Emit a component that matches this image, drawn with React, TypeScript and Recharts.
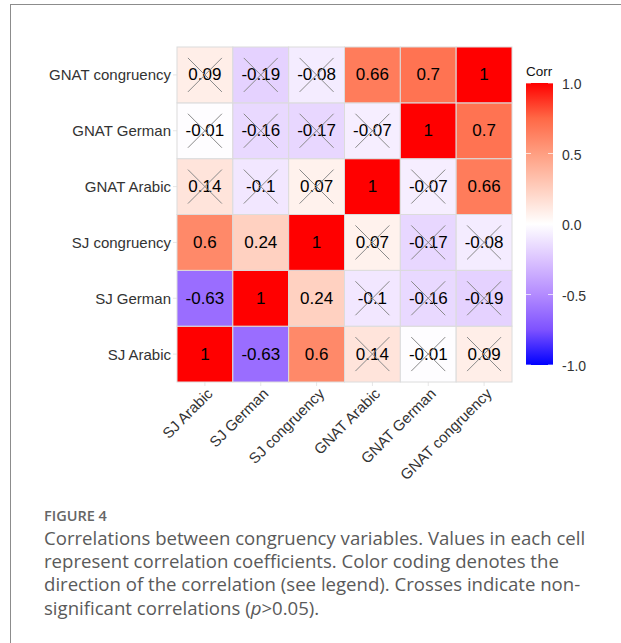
import React from 'react';
import { ScatterChart, Scatter, XAxis, YAxis, Customized } from 'recharts';

const variables = ['SJ Arabic', 'SJ German', 'SJ congruency', 'GNAT Arabic', 'GNAT German', 'GNAT congruency'];

// correlation values in upper-triangle order: [row var, col var, r, significant]
const pairA = ['SJ Arabic', 'SJ Arabic', 'SJ Arabic', 'SJ Arabic', 'SJ Arabic', 'SJ German', 'SJ German', 'SJ German', 'SJ German', 'SJ congruency', 'SJ congruency', 'SJ congruency', 'GNAT Arabic', 'GNAT Arabic', 'GNAT German'];
const pairB = ['SJ German', 'SJ congruency', 'GNAT Arabic', 'GNAT German', 'GNAT congruency', 'SJ congruency', 'GNAT Arabic', 'GNAT German', 'GNAT congruency', 'GNAT Arabic', 'GNAT German', 'GNAT congruency', 'GNAT German', 'GNAT congruency', 'GNAT congruency'];
const pairR = [-0.63, 0.6, 0.14, -0.01, 0.09, 0.24, -0.1, -0.16, -0.19, 0.07, -0.17, -0.08, -0.07, 0.66, 0.7];
const pairSig = [true, true, false, false, false, true, false, false, false, false, false, false, false, true, true];

const legendTicks = [1.0, 0.5, 0.0, -0.5, -1.0];

const W = 621;
const PLOT_LEFT = 177;
const PLOT_RIGHT = 512;
const PLOT_TOP = 47;
const PLOT_BOTTOM = 382;
const CELL = (PLOT_RIGHT - PLOT_LEFT) / variables.length;

// Lab interpolation like ggplot's scale_fill_gradient2
function toLin(c: number) { c /= 255; return c <= 0.04045 ? c / 12.92 : Math.pow((c + 0.055) / 1.055, 2.4); }
function fromLin(c: number) { const v = c <= 0.0031308 ? 12.92 * c : 1.055 * Math.pow(c, 1 / 2.4) - 0.055; return Math.max(0, Math.min(255, Math.round(v * 255))); }
function rgb2lab(r: number, g: number, b: number) {
  const R = toLin(r), G = toLin(g), B = toLin(b);
  const X = (0.4124 * R + 0.3576 * G + 0.1805 * B) / 0.95047;
  const Y = (0.2126 * R + 0.7152 * G + 0.0722 * B);
  const Z = (0.0193 * R + 0.1192 * G + 0.9505 * B) / 1.08883;
  const f = (t: number) => t > 0.008856 ? Math.cbrt(t) : 7.787 * t + 16 / 116;
  const fx = f(X), fy = f(Y), fz = f(Z);
  return [116 * fy - 16, 500 * (fx - fy), 200 * (fy - fz)];
}
function lab2rgb(L: number, a: number, bb: number) {
  const fy = (L + 16) / 116, fx = fy + a / 500, fz = fy - bb / 200;
  const fi = (t: number) => t * t * t > 0.008856 ? t * t * t : (t - 16 / 116) / 7.787;
  const X = fi(fx) * 0.95047, Y = fi(fy), Z = fi(fz) * 1.08883;
  const R = 3.2406 * X - 1.5372 * Y - 0.4986 * Z;
  const G = -0.9689 * X + 1.8758 * Y + 0.0415 * Z;
  const B = 0.0557 * X - 0.2040 * Y + 1.0570 * Z;
  return `rgb(${fromLin(R)},${fromLin(G)},${fromLin(B)})`;
}
const LAB_W = rgb2lab(255, 255, 255);
const LAB_R = rgb2lab(255, 0, 0);
const LAB_B = rgb2lab(0, 0, 255);
function corrColor(v: number) {
  const t = Math.min(1, Math.abs(v));
  const end = v >= 0 ? LAB_R : LAB_B;
  return lab2rgb(LAB_W[0] + (end[0] - LAB_W[0]) * t, LAB_W[1] + (end[1] - LAB_W[1]) * t, LAB_W[2] + (end[2] - LAB_W[2]) * t);
}

function fmt(v: number) { return String(v); }

type Cell = { x: number; y: number; r: number; sig: boolean };
const cells: Cell[] = [];
variables.forEach((rv, yi) => {
  variables.forEach((cv, xi) => {
    let r = 1, sig = true;
    if (rv !== cv) {
      for (let k = 0; k < pairR.length; k++) {
        if ((pairA[k] === rv && pairB[k] === cv) || (pairA[k] === cv && pairB[k] === rv)) { r = pairR[k]; sig = pairSig[k]; }
      }
    }
    cells.push({ x: xi + 1, y: yi + 1, r, sig });
  });
});

const TileShape = (props: any) => {
  const { cx, cy, payload } = props;
  if (cx == null || cy == null) return null;
  const h = CELL / 2;
  const c = 17;
  return (
    <g>
      <rect x={cx - h} y={cy - h} width={CELL} height={CELL} fill={corrColor(payload.r)} stroke="#dcdcdc" strokeWidth={1} />
      <text x={cx} y={cy} textAnchor="middle" dominantBaseline="central" fontSize={17} fill="#000" fontFamily="Liberation Sans, Arial, sans-serif">{fmt(payload.r)}</text>
      {!payload.sig && (
        <g stroke="#8a8a8a" strokeWidth={1}>
          <line x1={cx - c} y1={cy - c} x2={cx + c} y2={cy + c} />
          <line x1={cx - c} y1={cy + c} x2={cx + c} y2={cy - c} />
        </g>
      )}
    </g>
  );
};

const YTick = (props: any) => {
  const { x, y, payload } = props;
  return (
    <text x={x} y={y} textAnchor="end" dominantBaseline="central" fontSize={15} fill="#333" fontFamily="Liberation Sans, Arial, sans-serif">
      {variables[payload.value - 1]}
    </text>
  );
};

const XTick = (props: any) => {
  const { x, y, payload } = props;
  return (
    <g transform={`translate(${x + 1},${y - 3})`}>
      <text x={0} y={0} dy="0.72em" textAnchor="end" transform="rotate(-45)" fontSize={15} fill="#333" fontFamily="Liberation Sans, Arial, sans-serif">
        {variables[payload.value - 1]}
      </text>
    </g>
  );
};

const BAR_X = 526, BAR_W = 27, BAR_TOP = 83, BAR_BOT = 365;

const Legend = () => (
  <g fontFamily="Liberation Sans, Arial, sans-serif">
    <defs>
      <linearGradient id="corrGrad" x1="0" y1="0" x2="0" y2="1">
        {[1, 0.75, 0.5, 0.25, 0, -0.25, -0.5, -0.75, -1].map((v) => (
          <stop key={v} offset={`${((1 - v) / 2) * 100}%`} stopColor={corrColor(v)} />
        ))}
      </linearGradient>
    </defs>
    <text x={BAR_X} y={71} fontSize={13.5} fill="#111" dominantBaseline="central">Corr</text>
    <rect x={BAR_X} y={BAR_TOP} width={BAR_W} height={BAR_BOT - BAR_TOP} fill="url(#corrGrad)" />
    {legendTicks.map((v) => {
      const yy = BAR_TOP + ((1 - v) / 2) * (BAR_BOT - BAR_TOP);
      return (
        <g key={v}>
          <line x1={BAR_X} x2={BAR_X + 5} y1={yy} y2={yy} stroke="#fff" strokeOpacity={0.7} />
          <line x1={BAR_X + BAR_W - 5} x2={BAR_X + BAR_W} y1={yy} y2={yy} stroke="#fff" strokeOpacity={0.7} />
          <text x={BAR_X + BAR_W + 9} y={yy + 1} fontSize={14} fill="#333" dominantBaseline="central">{v.toFixed(1)}</text>
        </g>
      );
    })}
  </g>
);

export default function App() {
  return (
    <div style={{ position: 'absolute', left: 0, top: 0, width: 621, height: 643, background: '#fff', overflow: 'hidden' }}>
      <div style={{ position: 'absolute', left: 10, top: 4, width: 611, height: 639, borderTop: '1px solid #8c8c8c', borderLeft: '1px solid #8c8c8c' }} />
      <div style={{ position: 'absolute', left: 0, top: 0 }}>
        <ScatterChart width={W} height={PLOT_BOTTOM + 105} margin={{ top: PLOT_TOP, right: W - PLOT_RIGHT, bottom: 0, left: 0 }}>
          <XAxis type="number" dataKey="x" domain={[0.5, 6.5]} ticks={[1, 2, 3, 4, 5, 6]} height={105} axisLine={false} tickLine={{ stroke: '#e6e6e6' }} tickSize={4} tickMargin={4} tick={<XTick />} interval={0} />
          <YAxis type="number" dataKey="y" domain={[0.5, 6.5]} ticks={[1, 2, 3, 4, 5, 6]} width={PLOT_LEFT} axisLine={false} tickLine={{ stroke: '#e6e6e6' }} tickSize={4} tickMargin={2} tick={<YTick />} interval={0} />
          <Scatter data={cells} shape={<TileShape />} isAnimationActive={false} />
          <Customized component={Legend} />
        </ScatterChart>
      </div>
      <div style={{ position: 'absolute', left: 44, top: 506, width: 577, fontFamily: '"Open Sans", sans-serif', color: '#5a5a5a' }}>
        <div style={{ fontSize: 14.5, fontWeight: 600, lineHeight: '20px', color: '#666' }}>FIGURE 4</div>
        <div style={{ fontSize: 18.6, lineHeight: '23.2px', whiteSpace: 'pre', marginTop: 0 }}>
          {'Correlations between congruency variables. Values in each cell\nrepresent correlation coefficients. Color coding denotes the\ndirection of the correlation (see legend). Crosses indicate non-\nsignificant correlations ('}<i>p</i>{'>0.05).'}
        </div>
      </div>
    </div>
  );
}
